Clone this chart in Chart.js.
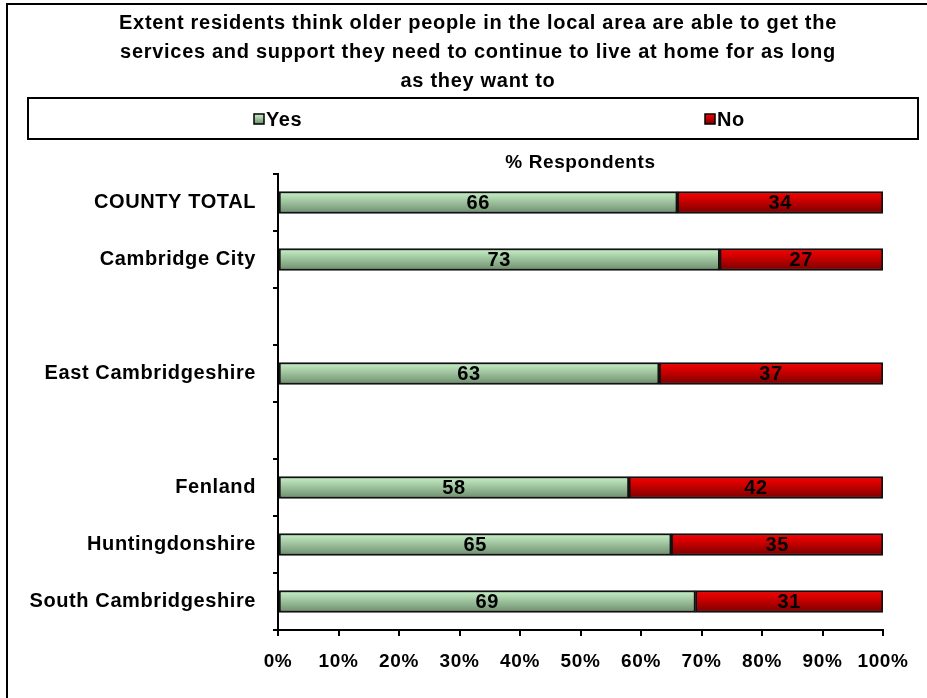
<!DOCTYPE html>
<html>
<head>
<meta charset="utf-8">
<script src="https://cdn.jsdelivr.net/npm/chart.js@4/dist/chart.umd.min.js"></script>
<style>
  html, body { margin: 0; padding: 0; background: #ffffff; }
  canvas { display: block; }
</style>
</head>
<body>
<canvas id="services_chart" width="927" height="698"></canvas>
<script>
// Districts (blank entries leave the gaps between groups)
const categories = [
    'COUNTY TOTAL', 'Cambridge City', '', 'East Cambridgeshire', '',
    'Fenland', 'Huntingdonshire', 'South Cambridgeshire'
]
const yesValues = [66, 73, null, 63, null, 58, 65, 69]
const noValues = [34, 27, null, 37, null, 42, 35, 31]
const xTickValues = [0, 10, 20, 30, 40, 50, 60, 70, 80, 90, 100]

const titleLines = [
    'Extent residents think older people in the local area are able to get the',
    'services and support they need to continue to live at home for as long',
    'as they want to'
]

const FONT = "'Liberation Sans', Arial, sans-serif"
const BAR_HEIGHT = 22
const TEXT_SPACING = '0.6px'

const GREEN_TOP = '#c9f3c9'
const GREEN_BOTTOM = '#6c8c6c'
const RED_TOP = '#ff0000'
const RED_BOTTOM = '#7a0000'

// Vertical gradient for each bar, taken from the bar's own row on the y scale
const barGradient = (top, bottom) => (c) => {
    const { ctx, chartArea, scales } = c.chart
    if (!chartArea || c.type !== 'data') return bottom
    const y = scales.y.getPixelForValue(c.dataIndex)
    const g = ctx.createLinearGradient(0, y - BAR_HEIGHT / 2, 0, y + BAR_HEIGHT / 2)
    g.addColorStop(0, top)
    g.addColorStop(1, bottom)
    return g
}

// Slightly looser letter spacing for all text the chart draws
const spacingPlugin = {
    id: 'spacing',
    beforeLayout(chart) { chart.ctx.letterSpacing = TEXT_SPACING },
    beforeDraw(chart) { chart.ctx.letterSpacing = TEXT_SPACING }
}

// Outer frame, title and the boxed legend
const framePlugin = {
    id: 'frame',
    beforeDraw(chart) {
        const ctx = chart.ctx
        ctx.save()
        ctx.fillStyle = '#ffffff'
        ctx.fillRect(0, 0, chart.width, chart.height)
        ctx.strokeStyle = '#000000'
        ctx.lineWidth = 2
        ctx.strokeRect(7, 4, chart.width + 20, chart.height + 20)

        ctx.fillStyle = '#000000'
        ctx.font = `bold 20px ${FONT}`
        ctx.letterSpacing = '0.7px'
        ctx.textAlign = 'center'
        ctx.textBaseline = 'middle'
        titleLines.forEach((line, i) => {
            ctx.fillText(line, 478, 23 + i * 29)
        })
        ctx.restore()
    },
    afterDraw(chart) {
        const ctx = chart.ctx
        ctx.save()
        ctx.strokeStyle = '#000000'
        ctx.lineWidth = 2
        ctx.strokeRect(28, 98, 890, 41)

        const items = [
            { label: 'Yes', x: 254, top: GREEN_TOP, bottom: GREEN_BOTTOM },
            { label: 'No', x: 705, top: RED_TOP, bottom: RED_BOTTOM }
        ]
        const cy = 119
        items.forEach(item => {
            const g = ctx.createLinearGradient(0, cy - 5, 0, cy + 5)
            g.addColorStop(0, item.top)
            g.addColorStop(1, item.bottom)
            ctx.fillStyle = g
            ctx.fillRect(item.x, cy - 5, 10, 10)
            ctx.lineWidth = 1.5
            ctx.strokeRect(item.x, cy - 5, 10, 10)
            ctx.fillStyle = '#000000'
            ctx.font = `bold 20px ${FONT}`
            ctx.textAlign = 'left'
            ctx.textBaseline = 'middle'
            ctx.fillText(item.label, item.x + 12, cy + 1)
        })
        ctx.restore()
    }
}

// Value printed in the middle of each bar segment
const valueLabels = {
    id: 'valueLabels',
    afterDatasetsDraw(chart) {
        const ctx = chart.ctx
        ctx.save()
        ctx.fillStyle = '#000000'
        ctx.font = `bold 20px ${FONT}`
        ctx.textAlign = 'center'
        ctx.textBaseline = 'middle'
        chart.data.datasets.forEach((ds, i) => {
            const meta = chart.getDatasetMeta(i)
            meta.data.forEach((bar, j) => {
                const v = ds.data[j]
                if (v == null) return
                const { x, y, base } = bar.getProps(['x', 'y', 'base'], true)
                ctx.fillText(String(v), (x + base) / 2, y + 1)
            })
        })
        ctx.restore()
    }
}

const config = {
    type: 'bar',
    data: {
        labels: categories,
        datasets: [
            {
                label: 'Yes',
                data: yesValues,
                backgroundColor: barGradient(GREEN_TOP, GREEN_BOTTOM),
                borderColor: '#111111',
                borderWidth: 2,
                borderSkipped: false,
                barThickness: BAR_HEIGHT
            },
            {
                label: 'No',
                data: noValues,
                backgroundColor: barGradient(RED_TOP, RED_BOTTOM),
                borderColor: '#111111',
                borderWidth: 2,
                borderSkipped: false,
                barThickness: BAR_HEIGHT
            }
        ]
    },
    options: {
        indexAxis: 'y',
        responsive: false,
        animation: false,
        layout: {
            padding: { left: 8, right: 44, top: 93, bottom: 0 }
        },
        plugins: {
            legend: { display: false },
            tooltip: { enabled: false },
            title: { display: false }
        },
        scales: {
            x: {
                stacked: true,
                min: 0,
                max: 100,
                afterBuildTicks: scale => {
                    scale.ticks = xTickValues.map(v => ({ value: v }))
                },
                afterFit: scale => { scale.height = 698 - 630 },
                border: { color: '#000000', width: 2 },
                grid: { drawOnChartArea: false, color: '#000000', lineWidth: 2, tickLength: 6 },
                ticks: {
                    color: '#000000',
                    padding: 14,
                    maxRotation: 0,
                    font: { family: FONT, size: 19, weight: 'bold' },
                    callback: v => v + '%'
                }
            },
            xTop: {
                position: 'top',
                axis: 'x',
                min: 0,
                max: 100,
                afterFit: scale => { scale.height = 174 - 93 },
                border: { display: false },
                grid: { display: false },
                ticks: { display: false },
                title: {
                    display: true,
                    text: '% Respondents',
                    color: '#000000',
                    font: { family: FONT, size: 19, weight: 'bold' },
                    padding: { top: 58, bottom: 0 }
                }
            },
            y: {
                stacked: true,
                afterFit: scale => { scale.width = 278 - 8 },
                border: { color: '#000000', width: 2 },
                grid: { drawOnChartArea: false, offset: true, color: '#000000', lineWidth: 2, tickLength: 5 },
                ticks: {
                    color: '#000000',
                    padding: 17,
                    font: { family: FONT, size: 20, weight: 'bold' }
                }
            }
        }
    },
    plugins: [spacingPlugin, framePlugin, valueLabels]
}

const chart = new Chart(document.getElementById('services_chart').getContext('2d'), config)
</script>
</body>
</html>
